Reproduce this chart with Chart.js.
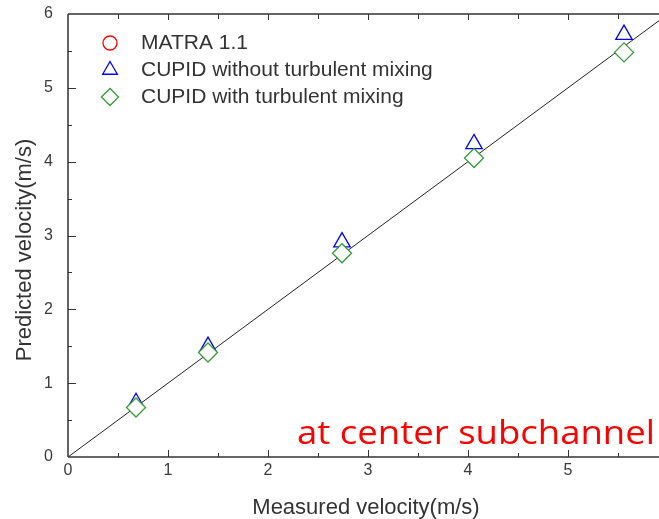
<!DOCTYPE html>
<html>
<head>
<meta charset="utf-8">
<script src="https://cdn.jsdelivr.net/npm/chart.js@4/dist/chart.umd.min.js"></script>
<style>
  html, body { margin: 0; padding: 0; background: #fff; }
  #wrap { width: 659px; height: 519px; overflow: hidden; position: relative; }
  #chart { display: block; }
</style>
</head>
<body>
<div id="wrap"><canvas id="chart" width="720" height="519"></canvas></div>
<script>
// measured velocity (m/s) at each station
var measured = [0.68, 1.40, 2.74, 4.06, 5.56];
var matra = [0.67, 1.415, 2.76, 4.05, 5.48];
var cupidNoMix = [0.735, 1.495, 2.91, 4.24, 5.72];
var cupidMix = [0.67, 1.415, 2.76, 4.05, 5.48];
var refLineX = [0, 6];
var refLineY = [0, 6];
var xTicks = [0, 1, 2, 3, 4, 5, 6];
var yTicks = [0, 1, 2, 3, 4, 5, 6];

function pts(xs, ys) {
    return xs.map(function(x, i) { return { x: x, y: ys[i] }; });
}

var axisColor = '#333';
var labelFont = 'Liberation Sans, Arial, sans-serif';

var framePlugin = {
    id: 'frame',
    afterDatasetsDraw: function(chart) {
        var ctx = chart.ctx, a = chart.chartArea;
        var xs = chart.scales.x, ys = chart.scales.y;
        ctx.save();
        ctx.strokeStyle = axisColor;
        ctx.lineWidth = 1.5;
        ctx.beginPath();
        ctx.moveTo(a.left, a.top); ctx.lineTo(a.right, a.top);
        ctx.moveTo(a.left, a.top); ctx.lineTo(a.left, a.bottom);
        ctx.moveTo(a.left, a.bottom); ctx.lineTo(a.right, a.bottom);
        ctx.stroke();
        ctx.lineWidth = 1;
        ctx.beginPath();
        for (var v = 0.5; v < 6; v += 0.5) {
            var major = v % 1 === 0;
            var px = Math.round(xs.getPixelForValue(v)) + 0.5;
            ctx.moveTo(px, a.bottom); ctx.lineTo(px, a.bottom - (major ? 7 : 4));
            ctx.moveTo(px, a.top); ctx.lineTo(px, a.top + (major ? 6 : 5));
            var py = Math.round(ys.getPixelForValue(v)) + 0.5;
            ctx.moveTo(a.left, py); ctx.lineTo(a.left + (major ? 8 : 4), py);
        }
        ctx.stroke();

        // legend inside plot
        var dsIdx = [1, 2, 3];
        ctx.font = '21px ' + labelFont;
        ctx.textBaseline = 'middle';
        dsIdx.forEach(function(di, r) {
            var ds = chart.data.datasets[di];
            var y = 43 + r * 27;
            ctx.strokeStyle = ds.borderColor;
            ctx.fillStyle = '#ffffff';
            ctx.lineWidth = 1.3;
            Chart.helpers.drawPoint(ctx, {
                pointStyle: ds.pointStyle, radius: ds.pointStyle === 'circle' ? 7 : 8.5,
                rotation: 0, borderWidth: 1.3
            }, 110, y);
            ctx.fillStyle = '#333';
            ctx.fillText(ds.label, 141, y);
        });

        // titles
        ctx.fillStyle = '#333';
        ctx.font = '22px ' + labelFont;
        ctx.textAlign = 'center';
        ctx.fillText('Measured velocity(m/s)', 366, 508);
        ctx.save();
        ctx.translate(25, 250);
        ctx.rotate(-Math.PI / 2);
        ctx.fillText('Predicted velocity(m/s)', 0, 0);
        ctx.restore();

        // annotation
        ctx.fillStyle = '#ff0000';
        ctx.font = '33px "Open Sans", sans-serif';
        ctx.textAlign = 'left';
        ctx.textBaseline = 'alphabetic';
        var txt = 'at center subchannel';
        var w = ctx.measureText(txt).width;
        ctx.translate(297, 444);
        ctx.scale(358 / w, 1);
        ctx.fillText(txt, 0, 0);
        ctx.restore();
    }
};

new Chart(document.getElementById('chart'), {
    type: 'scatter',
    data: {
        datasets: [
            {
                type: 'line',
                label: 'y = x',
                data: pts(refLineX, refLineY),
                borderColor: '#222',
                borderWidth: 1,
                pointRadius: 0,
                order: 4
            },
            {
                label: 'MATRA 1.1',
                data: pts(measured, matra),
                pointStyle: 'circle',
                pointRadius: 6,
                borderColor: '#ff0000',
                backgroundColor: 'rgba(0,0,0,0)',
                borderWidth: 1.3,
                order: 3
            },
            {
                label: 'CUPID without turbulent mixing',
                data: pts(measured, cupidNoMix),
                pointStyle: 'triangle',
                pointRadius: 9.5,
                borderColor: '#0000ff',
                backgroundColor: 'rgba(0,0,0,0)',
                borderWidth: 1.3,
                order: 2
            },
            {
                label: 'CUPID with turbulent mixing',
                data: pts(measured, cupidMix),
                pointStyle: 'rectRot',
                pointRadius: 9.5,
                borderColor: '#3a9a3a',
                backgroundColor: '#ffffff',
                borderWidth: 1.3,
                order: 1
            }
        ]
    },
    options: {
        responsive: false,
        animation: false,
        layout: { padding: { top: 14, right: 52, left: 0, bottom: 0 } },
        plugins: {
            legend: { display: false },
            tooltip: { enabled: false }
        },
        scales: {
            x: {
                type: 'linear', min: 0, max: 6,
                afterFit: function(s) { s.height = 62; s.paddingLeft = 0; s.paddingRight = 0; },
                afterBuildTicks: function(s) { s.ticks = xTicks.map(function(v) { return { value: v }; }); },
                grid: { display: false, drawTicks: false },
                border: { display: false },
                ticks: { padding: 4, color: '#3a3a3a', font: { size: 16, family: labelFont } }
            },
            y: {
                type: 'linear', min: 0, max: 6,
                afterFit: function(s) { s.width = 68; s.paddingTop = 0; s.paddingBottom = 0; },
                afterBuildTicks: function(s) { s.ticks = yTicks.map(function(v) { return { value: v }; }); },
                grid: { display: false, drawTicks: false },
                border: { display: false },
                ticks: { padding: 15, color: '#3a3a3a', font: { size: 16, family: labelFont } }
            }
        }
    },
    plugins: [framePlugin]
});
</script>
</body>
</html>
